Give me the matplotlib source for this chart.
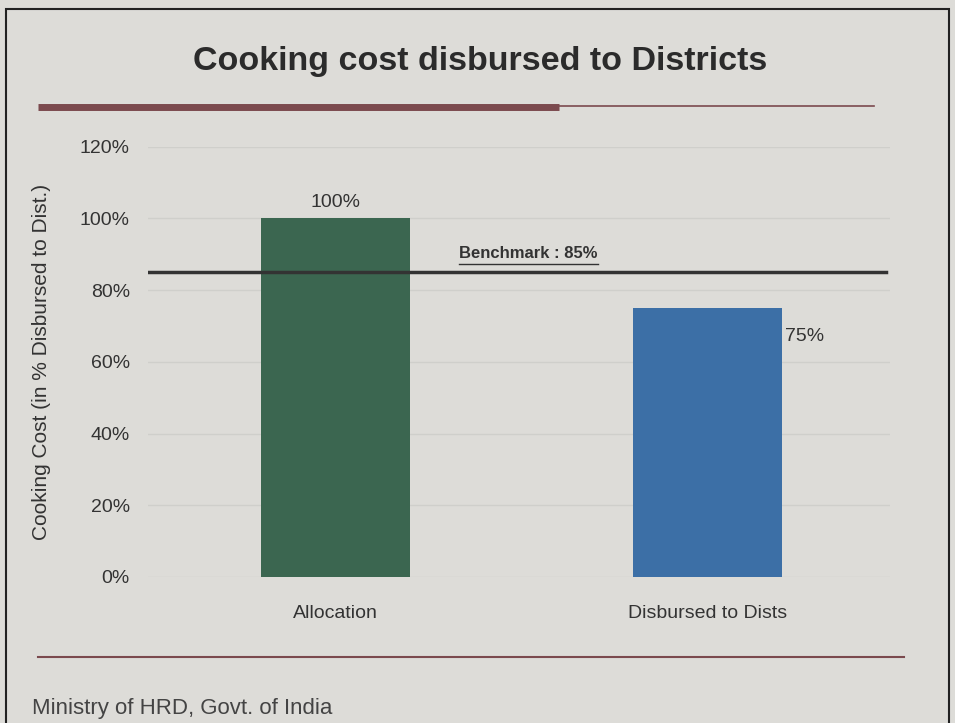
import matplotlib
matplotlib.use("Agg")
import matplotlib.pyplot as plt
from matplotlib.lines import Line2D
from matplotlib.patches import Rectangle
from matplotlib.ticker import PercentFormatter

categories = ["Allocation", "Disbursed to Dists"]
values = [100, 75]
bar_colors = ["#3b6650", "#3c6fa6"]
benchmark = 85
y_ticks = [0, 20, 40, 60, 80, 100, 120]

BG = "#dddcd8"
MAROON = "#7b4a4e"
TXT = "#333333"

plt.rcParams["font.family"] = ["Liberation Sans", "DejaVu Sans"]

fig = plt.figure(figsize=(9.55, 7.23), dpi=100, facecolor=BG)

# slide frame
fig.patches.append(Rectangle((0.006, -0.01), 0.988, 0.998, transform=fig.transFigure,
                             fill=False, edgecolor="#222222", linewidth=1.5))

fig.text(0.503, 0.915, "Cooking cost disbursed to Districts", ha="center", va="center",
         fontsize=24.5, fontweight="bold", color="#2b2b2b")

# maroon rules (title underline and footer line)
fig.add_artist(Line2D([0.04, 0.585], [0.852, 0.852], transform=fig.transFigure,
                      color=MAROON, linewidth=5, solid_capstyle="butt"))
fig.add_artist(Line2D([0.585, 0.915], [0.854, 0.854], transform=fig.transFigure,
                      color=MAROON, linewidth=1.2))
fig.add_artist(Line2D([0.04, 0.947], [0.091, 0.091], transform=fig.transFigure,
                      color=MAROON, linewidth=1.5))

fig.text(0.033, 0.02, "Ministry of HRD, Govt. of India", ha="left", va="center",
         fontsize=16, color="#444444")

ax = fig.add_axes([0.155, 0.202, 0.777, 0.595])
ax.set_facecolor(BG)
x = range(len(categories))
ax.bar(x, values, width=0.4, color=bar_colors, zorder=2)
ax.set_xlim(-0.505, 1.49)
ax.set_ylim(0, 120)
ax.set_yticks(y_ticks)
ax.yaxis.set_major_formatter(PercentFormatter(decimals=0))
ax.set_xticks(list(x))
ax.set_xticklabels(categories)
ax.tick_params(length=0, labelsize=14, colors=TXT)
ax.tick_params(axis="y", pad=13)
ax.tick_params(axis="x", pad=20)
ax.grid(axis="y", color="#cfcfcb", linewidth=1, zorder=0)
for s in ax.spines.values():
    s.set_visible(False)
ax.set_ylabel("Cooking Cost (in % Disbursed to Dist.)", fontsize=15, color=TXT, labelpad=21)

ax.axhline(benchmark, xmin=0, xmax=0.995, color="#333333", linewidth=2.5, zorder=3)
ax.text(0.33, benchmark + 3, f"Benchmark : {benchmark}%", fontsize=12, fontweight="bold",
        color=TXT, ha="left", va="bottom")
ax.plot([0.33, 0.705], [benchmark + 2.2, benchmark + 2.2], color=TXT, linewidth=1)

ax.text(0, values[0] + 2, f"{values[0]}%", ha="center", va="bottom", fontsize=14, color=TXT)
ax.text(1.207, values[1] - 8, f"{values[1]}%", ha="left", va="center", fontsize=14, color=TXT)

fig.savefig("out.png", dpi=100, facecolor=BG)
